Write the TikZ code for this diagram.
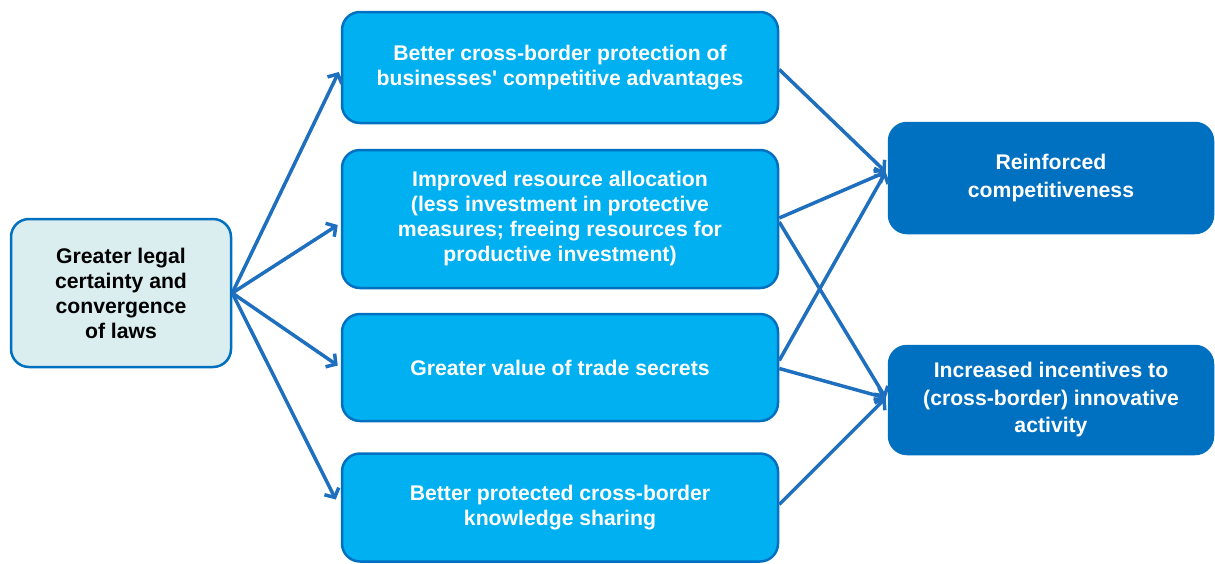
\documentclass[tikz,border=0pt]{standalone}
\usepackage{fontspec}
\setmainfont{Liberation Sans}[Ligatures=TeXOff]
\usetikzlibrary{arrows.meta,calc}
\definecolor{midfill}{HTML}{00B0F0}
\definecolor{darkblue}{HTML}{0070C0}
\definecolor{leftfill}{HTML}{DAEDEF}
\definecolor{arrowc}{HTML}{1F6FBF}
\tikzset{
  box/.style={rectangle, rounded corners=18pt, line width=2.5pt, draw=darkblue, align=center, font=\bfseries\fontsize{21.2}{25}\selectfont, inner sep=0pt},
  leftbox/.style={box, fill=leftfill, text=black},
  midbox/.style={box, fill=midfill, text=white, minimum width=436pt},
  rightbox/.style={box, fill=darkblue, draw=darkblue, text=white, minimum width=324pt, font=\bfseries\fontsize{21.2}{27.5}\selectfont},
  conn/.style={draw=arrowc, line width=3.5pt, -{Straight Barb[length=7pt,width=16pt,line width=3.5pt]}}
}
\begin{document}
\begin{tikzpicture}[x=1pt,y=-1pt]
\useasboundingbox (0,0) rectangle (1215,563);
\node[leftbox, minimum width=220pt, minimum height=148pt] (L) at (121,293) {Greater legal\\certainty and\\convergence\\of laws};
\node[midbox, minimum height=111pt] (M1) at (560,67.5) {Better cross-border protection of\\businesses' competitive advantages};
\node[midbox, minimum height=138pt] (M2) at (560,219) {Improved resource allocation\\(less investment in protective\\measures; freeing resources for\\productive investment)};
\node[midbox, minimum height=107pt] (M3) at (560,367.5) {Greater value of trade secrets};
\node[midbox, minimum height=108pt] (M4) at (560,507.5) {Better protected cross-border\\knowledge sharing};
\node[rightbox, minimum height=110pt] (R1) at (1051,178) {\raisebox{-2pt}{\parbox{300pt}{\centering Reinforced\\competitiveness}}};
\node[rightbox, minimum height=108pt] (R2) at (1051,400) {Increased incentives to\\(cross-border) innovative\\activity};
\coordinate (s) at (L.east);
\coordinate (t1) at ($(R1.west)+(-2,-6)$);
\coordinate (t2) at ($(R2.west)+(-2,-2)$);
\draw[conn] (s) -- ($(M1.west)+(-2,4.5)$);
\draw[conn] (s) -- ($(M2.west)+(-3,6)$);
\draw[conn] (s) -- ($(M3.west)+(-3,-2)$);
\draw[conn] (s) -- ($(M4.west)+(-5,-8)$);
\draw[conn] ($(M1.east)+(0,2)$) -- (t1);
\draw[conn] ($(M2.east)+(0,-1)$) -- (t1);
\draw[conn] ($(M3.east)+(0,-7)$) -- (t1);
\draw[conn] ($(M2.east)+(0,3)$) -- (t2);
\draw[conn] ($(M3.east)+(0,1)$) -- (t2);
\draw[conn] ($(M4.east)+(0,-3)$) -- (t2);
\end{tikzpicture}
\end{document}
